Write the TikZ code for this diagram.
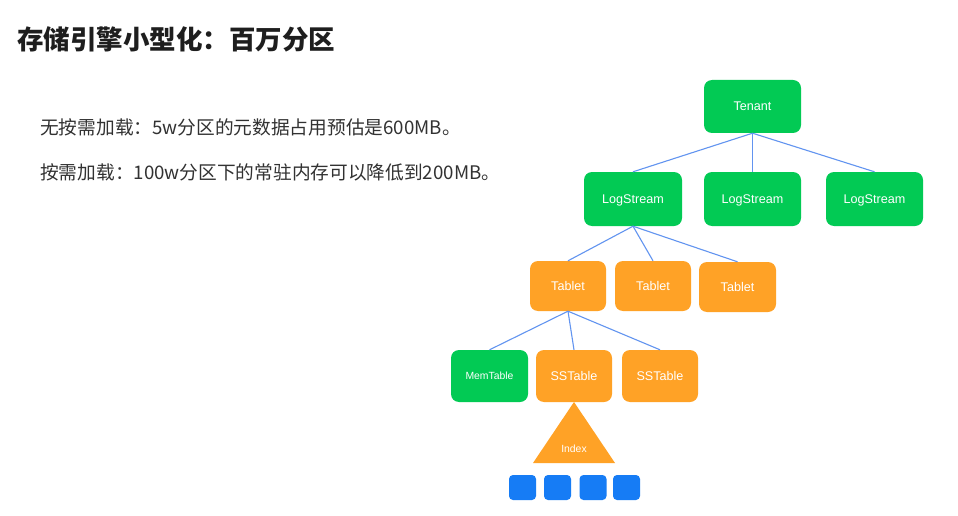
\documentclass[tikz,border=0pt]{standalone}
\usepackage{fontspec}
\setmainfont{Liberation Sans}
\newfontfamily\cjk{Noto Sans CJK SC}
\definecolor{tgreen}{RGB}{2,202,84}
\definecolor{torange}{RGB}{255,162,38}
\definecolor{tline}{RGB}{98,148,240}
\definecolor{tblue}{RGB}{22,124,245}
\definecolor{ttitle}{RGB}{30,30,30}
\definecolor{tbody}{RGB}{50,50,50}
\tikzset{
  box/.style={rectangle, rounded corners=8pt, inner sep=0pt, text=white, font=\fontsize{12.6}{14}\selectfont, text height=9pt, text depth=0pt},
  small/.style={font=\fontsize{10.4}{12}\selectfont, text height=7.5pt, text depth=0pt},
  gbox/.style={box, fill=tgreen},
  obox/.style={box, fill=torange},
  sq/.style={rectangle, rounded corners=4pt, fill=tblue, minimum width=27pt, minimum height=25pt, inner sep=0pt},
  conn/.style={draw=tline, line width=1.1pt},
}
\begin{document}
\begin{tikzpicture}[x=1pt,y=-1pt]
\fill[white] (0,0) rectangle (958,516);
\useasboundingbox (0,0) rectangle (958,516);

\node[anchor=west, text=ttitle, inner sep=0pt] (title) at (17,39) {\cjk\bfseries\fontsize{26.5}{30}\selectfont 存储引擎小型化：百万分区};
\node[anchor=west, text=tbody, inner sep=0pt] (l1) at (40,127.5) {\cjk\fontsize{18.7}{20}\selectfont 无按需加载：5w分区的元数据占用预估是600MB。};
\node[anchor=west, text=tbody, inner sep=0pt] (l2) at (40,172.5) {\cjk\fontsize{18.7}{20}\selectfont 按需加载：100w分区下的常驻内存可以降低到200MB。};

\node[gbox, minimum width=97pt, minimum height=53pt] (ten) at (752.5,106.5) {Tenant};
\node[gbox, minimum width=98pt, minimum height=54pt] (ls1) at (633,199) {LogStream};
\node[gbox, minimum width=97pt, minimum height=54pt] (ls2) at (752.5,199) {LogStream};
\node[gbox, minimum width=97pt, minimum height=54pt] (ls3) at (874.5,199) {LogStream};

\node[obox, minimum width=76pt, minimum height=50pt] (tb1) at (568,286) {Tablet};
\node[obox, minimum width=76pt, minimum height=50pt] (tb2) at (653,286) {Tablet};
\node[obox, minimum width=77pt, minimum height=50pt] (tb3) at (737.5,287) {Tablet};

\node[gbox, small, minimum width=77pt, minimum height=52pt] (mem) at (489.5,376) {MemTable};
\node[obox, minimum width=76pt, minimum height=52pt] (ss1) at (574,376) {SSTable};
\node[obox, minimum width=76pt, minimum height=52pt] (ss2) at (660,376) {SSTable};

\coordinate (ta) at (574,402);
\coordinate (tl) at (533,463);
\coordinate (tr) at (615,463);
\fill[torange] (ta) -- (tr) -- (tl) -- cycle;
\node[small, text=white, inner sep=0pt] (idx) at (574,449) {Index};

\node[sq] (b1) at (522.5,487.5) {};
\node[sq] (b2) at (557.5,487.5) {};
\node[sq] (b3) at (593,487.5) {};
\node[sq] (b4) at (626.5,487.5) {};

\draw[conn] (ten.south) -- (ls1.north);
\draw[conn] (ten.south) -- (ls2.north);
\draw[conn] (ten.south) -- (ls3.north);
\draw[conn] (ls1.south) -- (tb1.north);
\draw[conn] (ls1.south) -- (tb2.north);
\draw[conn] (ls1.south) -- (tb3.north);
\draw[conn] (tb1.south) -- (mem.north);
\draw[conn] (tb1.south) -- (ss1.north);
\draw[conn] (tb1.south) -- (ss2.north);
\end{tikzpicture}
\end{document}
